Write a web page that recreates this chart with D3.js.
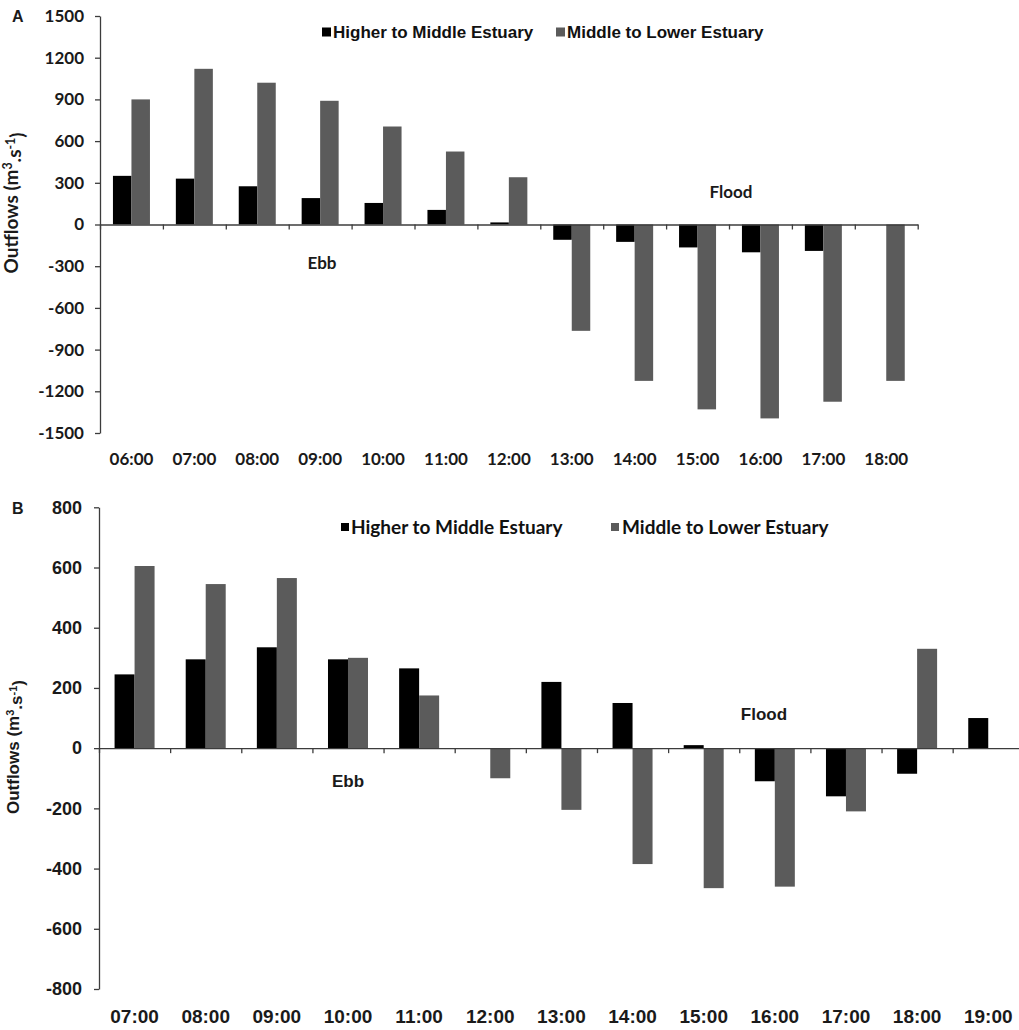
<!DOCTYPE html>
<html>
<head>
<meta charset="utf-8">
<script src="https://cdn.jsdelivr.net/npm/d3@7"></script>
<style>
  html, body { margin: 0; padding: 0; background: #fff; }
  svg { display: block; }
</style>
</head>
<body>
<svg id="chart" width="1019" height="1030"></svg>
<script>
// Panel A: hourly outflows, 06:00–18:00
const hoursA   = ["06:00","07:00","08:00","09:00","10:00","11:00","12:00","13:00","14:00","15:00","16:00","17:00","18:00"];
const higherA  = [350, 330, 275, 190, 155, 105, 15, -110, -125, -165, -200, -190, 0];
const middleA  = [900, 1120, 1020, 890, 705, 525, 340, -765, -1125, -1330, -1395, -1275, -1125];
const yTicksA  = [-1500, -1200, -900, -600, -300, 0, 300, 600, 900, 1200, 1500];

// Panel B: hourly outflows, 07:00–19:00
const hoursB   = ["07:00","08:00","09:00","10:00","11:00","12:00","13:00","14:00","15:00","16:00","17:00","18:00","19:00"];
const higherB  = [245, 295, 335, 295, 265, 0, 220, 150, 10, -110, -160, -85, 100];
const middleB  = [605, 545, 565, 300, 175, -100, -205, -385, -465, -460, -210, 330, 0];
const yTicksB  = [-800, -600, -400, -200, 0, 200, 400, 600, 800];

const seriesNames = ["Higher to Middle Estuary", "Middle to Lower Estuary"];
const seriesColors = ["#000000", "#5b5b5b"];

const svg = d3.select("#chart");
const AXIS = "#3c3c3c";
const fontA = "Lato, 'Open Sans', sans-serif";
const fontB = "'Liberation Sans', Arial, sans-serif";

function drawPanel(cfg) {
  const g = svg.append("g");
  const n = cfg.hours.length;
  const p = 1 - cfg.groupW / cfg.step;

  const x = d3.scaleBand()
    .domain(cfg.hours)
    .range([cfg.x0, cfg.x0 + n * cfg.step])
    .paddingInner(p)
    .paddingOuter(p / 2);

  const xs = d3.scaleBand()
    .domain(seriesNames)
    .range([0, x.bandwidth()]);

  const y = d3.scaleLinear()
    .domain([cfg.yMin, cfg.yMax])
    .range([cfg.yBottom, cfg.yTop]);

  const rows = cfg.hours.map((h, i) => ({ hour: h, values: [cfg.higher[i], cfg.middle[i]] }));

  // bars
  const grp = g.append("g").selectAll("g").data(rows).join("g")
    .attr("transform", d => `translate(${x(d.hour)},0)`);
  grp.selectAll("rect")
    .data(d => d.values.map((v, k) => ({ v, k })))
    .join("rect")
    .attr("x", d => xs(seriesNames[d.k]))
    .attr("width", xs.bandwidth())
    .attr("y", d => Math.min(y(d.v), y(0)))
    .attr("height", d => Math.abs(y(d.v) - y(0)))
    .attr("fill", d => seriesColors[d.k]);

  // category axis along zero with ticks between categories
  const xi = d3.scaleLinear().domain([0, n]).range([cfg.x0, cfg.x0 + n * cfg.step]);
  const zeroAxis = g.append("g")
    .attr("transform", `translate(0,${y(0)})`)
    .call(d3.axisBottom(xi).tickValues(d3.range(0, n + 1)).tickSize(5).tickSizeOuter(0).tickFormat(""));
  zeroAxis.selectAll("path, line").attr("stroke", AXIS).attr("stroke-width", 1.3);

  // category labels at the bottom of the plot
  const lab = g.append("g")
    .attr("transform", `translate(0,${cfg.labelY})`)
    .call(d3.axisBottom(x).tickSize(0).tickPadding(0));
  lab.select(".domain").remove();
  lab.selectAll("text")
    .attr("y", 0).attr("dy", "0.35em")
    .attr("font-family", cfg.tickFont).attr("font-weight", "bold")
    .attr("font-size", cfg.xTickSize).attr("fill", "#1a1a1a");

  // value axis
  const yAxis = g.append("g")
    .attr("transform", `translate(${cfg.x0},0)`)
    .call(d3.axisLeft(y).tickValues(cfg.yTicks).tickSize(5).tickSizeOuter(0)
      .tickPadding(cfg.yPad).tickFormat(d => String(d)));
  yAxis.selectAll("path, line").attr("stroke", AXIS).attr("stroke-width", 1.3);
  yAxis.selectAll("text")
    .attr("font-family", cfg.tickFont).attr("font-weight", "bold")
    .attr("font-size", cfg.yTickSize).attr("fill", "#1a1a1a");

  // axis title
  const t = g.append("text")
    .attr("transform", `translate(${cfg.titleX},${cfg.titleY}) rotate(-90)`)
    .attr("text-anchor", "middle")
    .attr("font-family", cfg.titleFont).attr("font-weight", "bold")
    .attr("font-size", cfg.titleSize).attr("fill", "#1a1a1a");
  t.append("tspan").text("Outflows  (m");
  t.append("tspan").attr("dy", "-0.45em").attr("font-size", "0.65em").text("3");
  t.append("tspan").attr("dy", "0.45em").text(".s");
  t.append("tspan").attr("dy", "-0.45em").attr("font-size", "0.65em").text("-1");
  t.append("tspan").attr("dy", "0.45em").text(")");

  // panel letter
  g.append("text")
    .attr("x", 12).attr("y", cfg.letterY).attr("dy", "0.35em")
    .attr("font-family", fontB).attr("font-weight", "bold")
    .attr("font-size", 16).attr("fill", "#1a1a1a")
    .text(cfg.letter);

  // tide phase notes
  cfg.notes.forEach(nt => {
    g.append("text")
      .attr("x", nt.x).attr("y", nt.y).attr("dy", "0.35em")
      .attr("text-anchor", "middle")
      .attr("font-family", cfg.noteFont).attr("font-weight", "bold")
      .attr("font-size", cfg.noteSize).attr("fill", "#1a1a1a")
      .text(nt.text);
  });

  // legend
  seriesNames.forEach((name, k) => {
    const L = cfg.legend[k];
    g.append("rect")
      .attr("x", L.sx).attr("y", cfg.legendY - cfg.sq / 2)
      .attr("width", cfg.sq).attr("height", cfg.sq)
      .attr("fill", seriesColors[k]);
    g.append("text")
      .attr("x", L.tx).attr("y", cfg.legendY).attr("dy", "0.35em")
      .attr("font-family", cfg.legendFont).attr("font-weight", "bold")
      .attr("font-size", cfg.legendSize).attr("fill", "#111")
      .text(name);
  });
}

drawPanel({
  letter: "A", letterY: 16,
  hours: hoursA, higher: higherA, middle: middleA, yTicks: yTicksA,
  x0: 100, step: 62.9, groupW: 37,
  yMin: -1500, yMax: 1500, yTop: 16, yBottom: 433,
  labelY: 459, tickFont: fontA, xTickSize: 17, yTickSize: 17, yPad: 11,
  titleX: 18, titleY: 203, titleFont: fontA, titleSize: 19,
  noteFont: fontA, noteSize: 17,
  notes: [{ text: "Ebb", x: 322, y: 263 }, { text: "Flood", x: 731, y: 192 }],
  legendY: 32, sq: 9, legendFont: fontB, legendSize: 17,
  legend: [{ sx: 322, tx: 333 }, { sx: 556, tx: 567 }]
});

drawPanel({
  letter: "B", letterY: 508,
  hours: hoursB, higher: higherB, middle: middleB, yTicks: yTicksB,
  x0: 99, step: 71.14, groupW: 40,
  yMin: -800, yMax: 800, yTop: 507.3, yBottom: 989,
  labelY: 1016, tickFont: fontB, xTickSize: 19, yTickSize: 18, yPad: 12,
  titleX: 19, titleY: 747, titleFont: fontB, titleSize: 17,
  noteFont: fontB, noteSize: 17,
  notes: [{ text: "Ebb", x: 348, y: 781 }, { text: "Flood", x: 764, y: 714 }],
  legendY: 527, sq: 8, legendFont: fontA, legendSize: 19,
  legend: [{ sx: 341, tx: 351 }, { sx: 611, tx: 622 }]
});
</script>
</body>
</html>
